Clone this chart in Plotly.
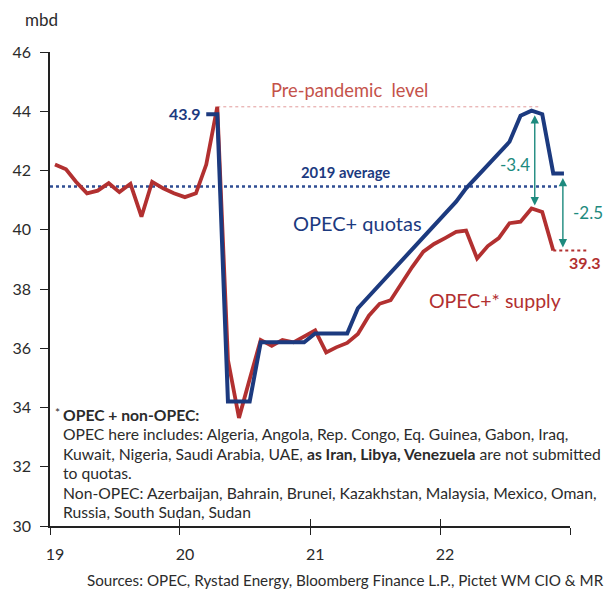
import numpy as np
import pandas as pd
import plotly.graph_objects as go

# monthly OPEC+ crude supply (mbd), Jan 2019 - Nov 2022
supply_months = pd.date_range("2019-01-01", "2022-11-01", freq="MS") + pd.Timedelta(days=14)
supply = [
    42.2, 42.04, 41.62, 41.23, 41.32, 41.57, 41.27, 41.55, 40.44, 41.62, 41.4, 41.23,
    41.1, 41.23, 42.2, 44.15, 35.6, 33.65, 34.95, 36.28, 36.08, 36.28, 36.2, 36.38,
    36.6, 35.86, 36.03, 36.18, 36.48, 37.1, 37.5, 37.62, 38.22, 38.75, 39.26, 39.52,
    39.72, 39.93, 39.97, 39.03, 39.45, 39.72, 40.22, 40.27, 40.72, 40.6, 39.3,
]

# OPEC+ quotas (mbd), Mar 2020 - Dec 2022
quota_months = pd.date_range("2020-03-01", "2022-12-01", freq="MS") + pd.Timedelta(days=14)
quotas = [
    43.9, 43.9, 34.2, 34.2, 34.2, 36.2, 36.2, 36.2, 36.2, 36.2,
    36.5, 36.5, 36.5, 36.5, 37.35, 37.75, 38.15, 38.55, 38.95, 39.35, 39.75, 40.15,
    40.55, 40.95, 41.4, 41.8, 42.2, 42.6, 42.97, 43.85, 44.02, 43.9, 41.9, 41.9,
]

year_ticks = ["2019-01-01", "2020-01-01", "2021-01-01", "2022-01-01", "2023-01-01"]
year_labels = ["19", "20", "21", "22", ""]

gap_labels = ["-3.4", "-2.5"]

footnote_lines = [
    "<b>OPEC + non-OPEC:</b>",
    "OPEC here includes: Algeria, Angola, Rep. Congo, Eq. Guinea, Gabon, Iraq,",
    "Kuwait, Nigeria, Saudi Arabia, UAE, <b>as Iran, Libya, Venezuela</b> are not submitted",
    "to quotas.",
    "Non-OPEC: Azerbaijan, Bahrain, Brunei, Kazakhstan, Malaysia, Mexico, Oman,",
    "Russia, South Sudan, Sudan",
]

BLUE = "#1c3a7f"
RED = "#b23030"
TEAL = "#1d8a7e"
TXT = "#2b2b2b"
FONT = "Lato"

W, H = 607, 594
L, R, T, B = 48, 37, 52, 68
X0, X1 = pd.Timestamp("2019-01-01"), pd.Timestamp("2023-01-01")
Y0, Y1 = 30, 46


def px(x):
    return (x - L) / (W - L - R)


def py(y):
    return (H - B - y) / (H - B - T)


def xp(d):
    return (pd.Timestamp(d) - X0) / (X1 - X0)


def yp(v):
    return (v - Y0) / (Y1 - Y0)


avg_2019 = float(np.mean(supply[:12]))
peak_i = int(np.argmax(supply))
peak = supply[peak_i]

fig = go.Figure()

# reference lines
fig.add_trace(go.Scatter(
    x=[supply_months[peak_i], pd.Timestamp("2022-10-05")], y=[peak, peak],
    mode="lines", line=dict(color="#e29a9a", width=1, dash="dot"),
    hoverinfo="skip"))
fig.add_trace(go.Scatter(
    x=[X0, pd.Timestamp("2022-12-01")], y=[avg_2019, avg_2019],
    mode="lines", line=dict(color="#2f4d93", width=2.5, dash="dot"),
    hoverinfo="skip"))

fig.add_trace(go.Scatter(x=supply_months, y=supply, mode="lines",
                         line=dict(color=RED, width=3.8), name="OPEC+* supply"))
fig.add_trace(go.Scatter(x=quota_months, y=quotas, mode="lines",
                         line=dict(color=BLUE, width=4), name="OPEC+ quotas"))

# dummy trace for the inside tick axis
fig.add_trace(go.Scatter(x=[X0], y=[Y0], xaxis="x2", mode="markers",
                         marker=dict(opacity=0), hoverinfo="skip"))

# dotted extension to 39.3 label
fig.add_shape(type="line", xref="paper", yref="paper",
              x0=xp(supply_months[-1]), x1=px(588),
              y0=yp(supply[-1]), y1=yp(supply[-1]),
              line=dict(color=RED, width=2, dash="dot"))

# gap arrows
arrow_spots = [
    (pd.Timestamp("2022-09-24"), quotas[quota_months.get_loc(pd.Timestamp("2022-09-15"))],
     supply[-3]),
    (pd.Timestamp("2022-12-12"), quotas[-1], supply[-1]),
]
for xa, top, bot in arrow_spots:
    fig.add_annotation(x=xa, y=bot, ax=xa, ay=top, xref="x", yref="y",
                       axref="x", ayref="y", text="", showarrow=True,
                       arrowhead=2, startarrowhead=2, arrowside="end+start",
                       arrowsize=1.2, startarrowsize=1.2, arrowwidth=1.4,
                       arrowcolor=TEAL, standoff=3, startstandoff=3)

labels = [
    # text, x px, y px, xanchor, color, size, bold
    ("mbd", 21, 19, "left", TXT, 17, False),
    ("43.9", 202, 113, "right", BLUE, 16, True),
    ("Pre-pandemic  level", 268, 90, "left", "#c4524a", 18.3, False),
    ("2019 average", 298, 172, "left", BLUE, 14.8, True),
    ("OPEC+ quotas", 290, 223, "left", BLUE, 20, False),
    ("OPEC+* supply", 426, 300, "left", RED, 19.5, False),
    (gap_labels[0], 515, 164, "center", TEAL, 17, False),
    (gap_labels[1], 588, 213, "center", TEAL, 17, False),
    (f"{supply[-1]:.1f}", 567, 262, "left", RED, 16, True),
]
for text, x, y, anchor, color, size, bold in labels:
    fig.add_annotation(x=px(x), y=py(y), xref="paper", yref="paper",
                       text=f"<b>{text}</b>" if bold else text, showarrow=False,
                       xanchor=anchor, yanchor="middle",
                       font=dict(family=FONT, size=size, color=color))

# footnote
fig.add_annotation(x=px(51), y=py(412), xref="paper", yref="paper", text="*",
                   showarrow=False, xanchor="left", yanchor="middle",
                   font=dict(family=FONT, size=12, color=TXT))
for i, line in enumerate(footnote_lines):
    fig.add_annotation(x=px(59), y=py(415 + i * 19.4), xref="paper", yref="paper",
                       text=line, showarrow=False, xanchor="left", yanchor="middle",
                       font=dict(family=FONT, size=15.7, color=TXT))

fig.add_annotation(x=px(606), y=py(580), xref="paper", yref="paper",
                   text="Sources: OPEC, Rystad Energy, Bloomberg Finance L.P., Pictet WM CIO & MR",
                   showarrow=False, xanchor="right", yanchor="middle",
                   font=dict(family=FONT, size=15.2, color=TXT))

axis_common = dict(range=[X0, X1], tickmode="array", tickvals=year_ticks,
                   showgrid=False, zeroline=False, ticklen=7, tickwidth=1.3,
                   tickcolor="#222")

fig.update_layout(
    width=W, height=H, autosize=False,
    margin=dict(l=L, r=R, t=T, b=B),
    paper_bgcolor="white", plot_bgcolor="white",
    showlegend=False,
    font=dict(family=FONT, color=TXT),
    xaxis=dict(**axis_common, ticktext=year_labels, ticks="outside",
               showline=True, linecolor="#222", linewidth=1.5,
               ticklabelshift=5, ticklabelstandoff=6,
               tickfont=dict(family=FONT, size=16, color=TXT)),
    xaxis2=dict(**axis_common, ticks="inside", overlaying="x", anchor="y",
                showticklabels=False, showline=False),
    yaxis=dict(range=[Y0, Y1], dtick=2, tick0=30, ticks="outside", ticklen=8,
               tickwidth=1.3, tickcolor="#222", showline=True, linecolor="#222",
               linewidth=1.5, showgrid=False, zeroline=False,
               ticklabelstandoff=6,
               tickfont=dict(family=FONT, size=16, color=TXT)),
)

fig.write_html("out.html", config={"displayModeBar": False},
               post_script="document.body.style.margin='0';")
